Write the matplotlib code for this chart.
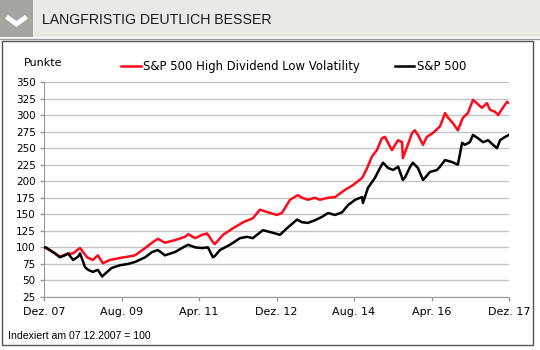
import matplotlib
matplotlib.use("Agg")
import matplotlib.pyplot as plt
from matplotlib.patches import Rectangle, Polygon
from matplotlib.lines import Line2D

# Monate seit 07.12.2007, Indexwerte (07.12.2007 = 100)
hdlv_month = [0, 1.5, 2.8, 4.1, 5.4, 6.2, 7.5, 8.8, 9.3, 10.1, 11.1, 12.6, 13.9, 15.2,
              17.0, 19.6, 21.7, 23.5, 26.1, 28.1, 29.4, 31.2, 33.8, 36.4, 37.2, 39.0,
              40.8, 42.1, 43.6, 44.1, 46.2, 48.8, 51.4, 53.9, 55.7, 57.8, 60.1, 61.4,
              63.5, 65.5, 66.6, 68.1, 69.9, 71.2, 73.3, 75.1, 77.7, 79.7, 82.1, 83.4,
              84.6, 85.9, 87.2, 88.0, 88.8, 89.8, 90.6, 91.4, 92.4, 92.6, 93.7, 95.0,
              95.7, 96.5, 97.8, 98.8, 100.4, 102.2, 103.5, 104.3, 105.5, 106.8, 108.1,
              109.4, 110.7, 111.7, 113.0, 114.3, 115.1, 116.4, 117.2, 118.4, 119.5, 120]
hdlv_vals = [100, 96, 91, 86, 89, 90, 91, 97, 99, 93, 85, 81, 88, 76,
             81, 84, 86, 88, 99, 108, 113, 107, 111, 116, 120, 114,
             119, 121, 108, 105, 119, 129, 138, 144, 157, 153, 149, 152,
             172, 179, 175, 172, 175, 172, 175, 176, 187, 194, 205, 220,
             237, 247, 265, 267, 258, 247, 255, 262, 259, 235, 252, 273,
             277, 270, 255, 267, 273, 283, 303, 296, 288, 277, 296,
             303, 323, 318, 311, 318, 308, 305, 300, 311, 320, 318]

spx_month = [0, 0.5, 1.5, 2.8, 4.1, 5.4, 6.2, 7.5, 8.8, 9.3, 10.6, 11.4, 12.6, 13.9,
             15.0, 16.3, 17.5, 19.6, 21.7, 23.5, 26.1, 27.9, 29.4, 31.2, 33.8, 35.9,
             37.2, 39.0, 40.8, 42.3, 43.6, 44.1, 45.4, 48.0, 50.6, 52.4, 53.9, 56.5,
             59.1, 60.9, 62.7, 65.3, 66.6, 68.1, 69.9, 71.7, 73.3, 75.1, 76.9, 78.5,
             80.3, 82.1, 82.3, 83.6, 85.4, 86.7, 87.5, 88.8, 90.1, 91.4, 92.6, 93.2,
             94.5, 95.2, 96.5, 97.8, 98.3, 99.6, 101.4, 102.2, 103.5, 105.3, 106.8,
             107.9, 108.6, 109.9, 110.7, 112.0, 113.3, 114.6, 115.9, 116.9, 117.7,
             119.0, 120]
spx_vals = [100, 100, 96, 91, 85, 88, 91, 81, 86, 91, 70, 66, 63, 66,
            56, 63, 69, 73, 75, 78, 85, 93, 96, 88, 93, 100,
            104, 100, 99, 100, 85, 87, 96, 104, 114, 116, 114, 126,
            122, 119, 129, 142, 138, 137, 141, 146, 152, 149, 153, 164,
            172, 176, 167, 190, 205, 220, 228, 220, 217, 222, 202, 206,
            222, 228, 220, 202, 205, 214, 217, 222, 232, 229, 225,
            258, 255, 259, 270, 265, 259, 262, 255, 250, 262,
            267, 270]

tick_months = [0, 20, 40, 60, 80, 100, 120]
tick_labels = ["Dez. 07", "Aug. 09", "Apr. 11", "Dez. 12", "Aug. 14", "Apr. 16", "Dez. 17"]
y_ticks = list(range(25, 351, 25))

title = "LANGFRISTIG DEUTLICH BESSER"
note = "Indexiert am 07.12.2007 = 100"

W, H = 540, 350
narrow = ["Liberation Sans", "DejaVu Sans"]

fig = plt.figure(figsize=(W / 100, H / 100), dpi=100)
fig.patch.set_facecolor("white")


def px(x, y):
    # Pixel (oben links) -> Figure-Koordinaten
    return (x / W, 1 - y / H)


# Kopfzeile
hx, hy = px(0, 37)
fig.add_artist(Rectangle((hx, hy), 1, 37 / H, transform=fig.transFigure,
                         facecolor="#ebe9e5", edgecolor="none"))
fig.add_artist(Rectangle((hx, hy), 33 / W, 37 / H, transform=fig.transFigure,
                         facecolor="#a6a5a0", edgecolor="none"))
chev = [px(8, 15), px(16.5, 21), px(25, 15), px(28, 18.5), px(16.5, 27), px(5, 18.5)]
fig.add_artist(Polygon(chev, closed=True, transform=fig.transFigure,
                       facecolor="white", edgecolor="none"))
fig.text(42 / W, 1 - 19.5 / H, title, fontsize=10.2, family=narrow,
         color="#1a1a1a", va="center", ha="left")
fig.add_artist(Line2D([0, 1], [1 - 38.5 / H] * 2, transform=fig.transFigure,
                      color="#9a9a9a", lw=1))

# Rahmen
bx, by = px(2, 345)
fig.add_artist(Rectangle((bx, by), 531 / W, 304 / H, transform=fig.transFigure,
                         facecolor="none", edgecolor="#555555", lw=1))

# Diagramm
ax = fig.add_axes([44 / W, 1 - 297 / H, 465 / W, 215 / H])
ax.set_facecolor("white")
for y in y_ticks:
    ax.axhline(y, color="#c4c4c4", lw=1, zorder=0)

ax.plot(hdlv_month, hdlv_vals, color="#ff0a1a", lw=1.8, zorder=3,
        label="S&P 500 High Dividend Low Volatility")
ax.plot(spx_month, spx_vals, color="black", lw=1.8, zorder=4, label="S&P 500")

ax.set_xlim(0, 120)
ax.set_ylim(25, 350)
ax.set_xticks(tick_months)
ax.set_xticklabels(tick_labels)
ax.set_yticks(y_ticks)
for s in ["top", "right"]:
    ax.spines[s].set_visible(False)
ax.spines["left"].set_color("#999999")
ax.spines["bottom"].set_color("#999999")
ax.tick_params(axis="both", colors="#999999", labelcolor="black", length=3, width=1)
ax.tick_params(axis="x", pad=4, labelsize=8)
ax.tick_params(axis="y", pad=3, labelsize=7.5)

fig.text(24 / W, 1 - 63 / H, "Punkte", fontsize=8, va="center", ha="left")
leg = ax.legend(loc="lower left", bbox_to_anchor=(0.156, 1.02), ncol=2, frameon=False,
                fontsize=8.4, handlelength=1.7, handletextpad=0.2, columnspacing=2.95,
                borderaxespad=0)

fig.text(8 / W, 1 - 336 / H, note, fontsize=7.6, family=narrow,
         va="center", ha="left")

fig.savefig("out.png", dpi=100)
